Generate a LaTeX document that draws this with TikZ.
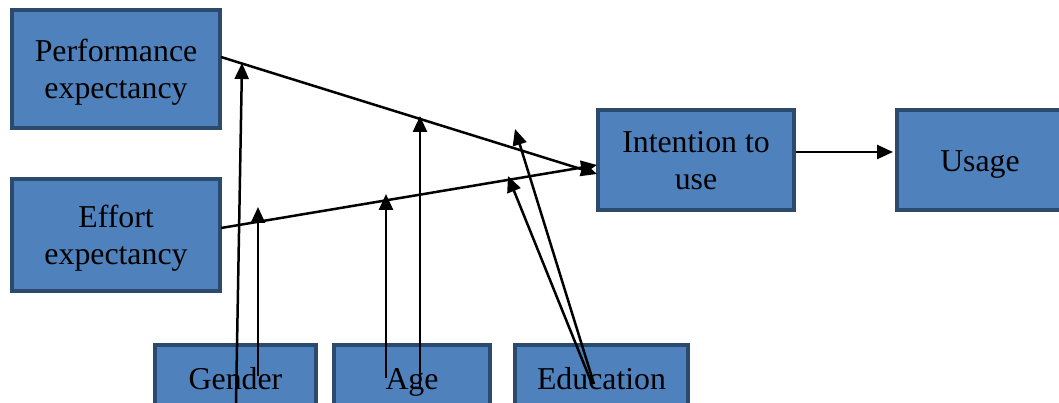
\documentclass[tikz,border=0pt]{standalone}
\usepackage{fontspec}
\setmainfont{Liberation Serif}
\usetikzlibrary{arrows.meta}
\definecolor{boxfill}{HTML}{4F81BD}
\definecolor{boxline}{HTML}{2C4A6E}
\begin{document}
\begin{tikzpicture}[x=1pt,y=-1pt,
  box/.style={draw=boxline, fill=boxfill, line width=4pt, align=center,
    font=\fontsize{31.8}{37}\selectfont, inner sep=0pt, text depth=0pt},
  single/.style={text height=24pt},
  conn/.style={line width=2.5pt, -{Triangle[length=16pt,width=14pt]}}]
\useasboundingbox (0,0) rectangle (1059,403);
% boxes
\node[box, minimum width=208pt, minimum height=118pt] (pe) at (116,69) {Performance\\expectancy};
\node[box, minimum width=208pt, minimum height=112pt] (ee) at (116,235) {Effort\\expectancy};
\node[box, minimum width=196pt, minimum height=100pt] (iu) at (696,160) {Intention to\\use};
\node[box, single, minimum width=166pt, minimum height=100pt] (us) at (980,160) {Usage};
\node[box, single, minimum width=161pt, minimum height=64pt] (ge) at (235.5,377) {Gender};
\node[box, single, minimum width=156pt, minimum height=64pt] (ag) at (412,377) {Age};
\node[box, single, minimum width=173pt, minimum height=64pt] (ed) at (601.5,377) {Education};
% anchor coordinates
\coordinate (peout) at (221,57);
\coordinate (eeout) at (221,228);
\coordinate (iuinA) at (597,174);
\coordinate (iuinB) at (597,165);
\coordinate (iuout) at (796,152);
\coordinate (usin) at (893,152);
\coordinate (geA) at (236,403);
\coordinate (geAt) at (242,63);
\coordinate (geB) at (258,376);
\coordinate (geBt) at (258,207);
\coordinate (agA) at (386,378);
\coordinate (agAt) at (386,194);
\coordinate (agB) at (420,388);
\coordinate (agBt) at (420,116);
\coordinate (edA) at (594,384);
\coordinate (edAt) at (515,129);
\coordinate (edB) at (592,384);
\coordinate (edBt) at (508,176);
% connectors
\draw[conn] (peout) -- (iuinA);
\draw[conn] (eeout) -- (iuinB);
\draw[conn] (iuout) -- (usin);
\draw[conn] (geA) -- (geAt);
\draw[conn] (geB) -- (geBt);
\draw[conn] (agA) -- (agAt);
\draw[conn] (agB) -- (agBt);
\draw[conn] (edA) -- (edAt);
\draw[conn] (edB) -- (edBt);
\end{tikzpicture}
\end{document}
